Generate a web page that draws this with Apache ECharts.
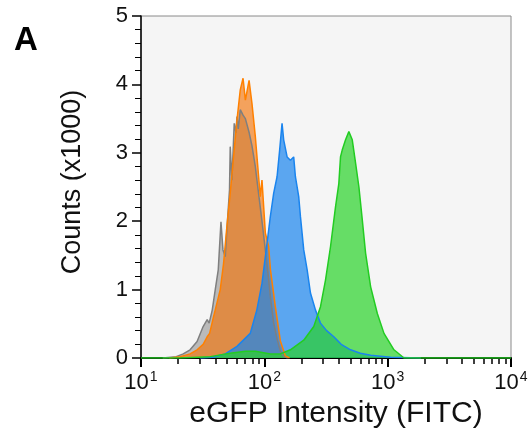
<!DOCTYPE html>
<html>
<head>
<meta charset="utf-8">
<script src="https://cdn.jsdelivr.net/npm/echarts@6/dist/echarts.min.js"></script>
<style>
  html, body { margin: 0; padding: 0; background: #ffffff; }
  #chart { width: 531px; height: 434px; }
</style>
</head>
<body>
<div id="chart"></div>
<script>
// x = FITC intensity, y = counts in thousands
const grayData = [
  [15, 0], [19.3, 0.02], [22, 0.06], [25, 0.12], [28.5, 0.24], [31.9, 0.46], [34.4, 0.56],
  [35.7, 0.51], [37.8, 0.7], [40, 1.0], [42.3, 1.29], [44.5, 1.99], [46.2, 1.58], [48.2, 1.48],
  [50.3, 2.02], [52.2, 2.46], [52.9, 3.09], [54.6, 2.6], [57, 3.43], [58.9, 3.29], [60, 3.53],
  [61.5, 3.35], [63.8, 3.63], [67.2, 3.55], [70.2, 3.5], [75.2, 3.3], [79.4, 3.1], [84.5, 2.8],
  [89.9, 2.4], [95.7, 2.0], [101.9, 1.58], [108.4, 1.15], [111.9, 0.9], [119.1, 0.51],
  [126.8, 0.28], [134.9, 0.1], [143.5, 0.02], [155, 0]
]
const orangeData = [
  [17, 0], [20.8, 0.02], [25, 0.06], [28.5, 0.12], [31.9, 0.2], [34.4, 0.31], [36, 0.36],
  [38.7, 0.6], [41, 0.78], [43.9, 1.0], [46.7, 1.38], [49.7, 1.92], [52.9, 2.41], [56.3, 2.94],
  [60, 3.48], [63.8, 3.92], [67.2, 4.09], [70.2, 3.77], [75.2, 4.06], [79.4, 3.72], [84.5, 3.24],
  [89.9, 2.65], [92.7, 2.36], [95.7, 2.6], [101.9, 1.83], [108.4, 1.63], [111.9, 1.3],
  [122.8, 0.75], [134.9, 0.25], [148.2, 0.03], [160, 0]
]
const blueData = [
  [30.2, 0], [38.4, 0.01], [48.2, 0.06], [60, 0.17], [76.9, 0.36], [86.9, 0.7], [95.7, 1.09],
  [101.9, 1.48], [111.9, 2.07], [119.1, 2.41], [126.8, 2.65], [133.1, 3.04], [139.2, 3.43],
  [143.5, 3.19], [153, 2.94], [162.7, 2.89], [173, 2.94], [178.6, 2.65], [190, 2.36],
  [196.2, 2.07], [208.7, 1.58], [222.4, 1.29], [236.6, 0.95], [260, 0.7], [285.3, 0.51],
  [320, 0.4], [365.9, 0.31], [420, 0.2], [500, 0.12], [600, 0.07], [727.8, 0.04],
  [1057, 0.01], [1860, 0]
]
const greenData = [
  [10, 0], [20.8, 0], [36.4, 0.02], [52.9, 0.07], [70.2, 0.1], [84.5, 0.1], [111.9, 0.06],
  [134.9, 0.06], [162.7, 0.12], [208.7, 0.26], [251.8, 0.46], [285.3, 0.75], [313.3, 1.14],
  [344.2, 1.63], [377.7, 2.21], [401.8, 2.55], [414.7, 2.94], [428.1, 3.04], [455.6, 3.19],
  [484.6, 3.31], [516.3, 3.19], [549.3, 2.85], [584.6, 2.5], [622.6, 2.02], [662.5, 1.53],
  [727.8, 1.04], [824.5, 0.65], [933.3, 0.36], [1125, 0.12], [1357, 0], [10000, 0]
]
const minorTicks = [20, 30, 40, 50, 60, 70, 80, 90, 200, 300, 400, 500, 600, 700, 800, 900,
  2000, 3000, 4000, 5000, 6000, 7000, 8000, 9000]

const font = 'Liberation Sans, Arial, sans-serif'

const makeSeries = (name, data, line, fill, opacity) => {
  return {
    name: name,
    type: 'line',
    data: data,
    symbol: 'none',
    lineStyle: { color: line, width: 1.5 },
    areaStyle: { color: fill, opacity: opacity },
    z: 2
  }
}

// tick-only axes live in exponent space (1..4) so they line up with the log axis
const tickAxis = (length, width, values) => {
  return {
    type: 'value',
    min: 1,
    max: 4,
    interval: 1,
    position: 'bottom',
    axisLine: { show: false },
    axisLabel: { show: false },
    splitLine: { show: false },
    axisTick: {
      show: true,
      length: length,
      customValues: values,
      lineStyle: { color: '#000', width: width }
    }
  }
}

const myChart = echarts.init(document.getElementById('chart'))
const option = {
  animation: false,
  title: {
    text: 'A',
    left: 9,
    top: 19,
    textStyle: { fontFamily: font, fontSize: 33, fontWeight: 'bold', color: '#000' }
  },
  grid: {
    left: 141,
    right: 20,
    top: 16,
    bottom: 76,
    outerBoundsMode: 'none',
    show: true,
    backgroundColor: '#f5f5f5',
    borderColor: '#8a8a8a',
    borderWidth: 1
  },
  xAxis: [
    {
      type: 'log',
      logBase: 10,
      min: 10,
      max: 10000,
      name: 'eGFP Intensity (FITC)',
      nameLocation: 'middle',
      nameGap: 30,
      nameTextStyle: { fontFamily: font, fontSize: 30, color: '#111', padding: [0, 0, 0, 20] },
      axisLine: { show: true, lineStyle: { color: '#000', width: 2 } },
      axisTick: { show: false },
      splitLine: { show: false },
      axisLabel: {
        margin: 12,
        color: '#111',
        formatter: (v) => '{b|10}{e|' + Math.round(Math.log10(v)) + '}',
        rich: {
          b: { fontFamily: font, fontSize: 22, color: '#111' },
          e: { fontFamily: font, fontSize: 14, color: '#111', padding: [0, 0, 12, 1] }
        }
      }
    },
    tickAxis(9, 2, [1, 2, 3, 4]),
    tickAxis(6, 1.5, minorTicks.map((v) => Math.log10(v)))
  ],
  yAxis: {
    type: 'value',
    min: 0,
    max: 5,
    interval: 1,
    name: 'Counts (x1000)',
    nameLocation: 'middle',
    nameGap: 55,
    nameTextStyle: { fontFamily: font, fontSize: 27, color: '#111', padding: [0, 0, 0, 10] },
    axisLine: { show: true, lineStyle: { color: '#000', width: 1.5 } },
    axisTick: { show: true, length: 9, lineStyle: { color: '#000', width: 1.5 } },
    minorTick: { show: true, splitNumber: 5, length: 6, lineStyle: { color: '#000', width: 1 } },
    splitLine: { show: false },
    axisLabel: { fontFamily: font, fontSize: 22, color: '#111', margin: 13 }
  },
  series: [
    makeSeries('gray', grayData, '#7f7f7f', '#7f7f7f', 0.5),
    makeSeries('orange', orangeData, '#ff8000', '#f47000', 0.62),
    makeSeries('blue', blueData, '#1a84ee', '#1a84ee', 0.7),
    makeSeries('green', greenData, '#22cc22', '#29d329', 0.7)
  ]
}
myChart.setOption(option)
</script>
</body>
</html>
